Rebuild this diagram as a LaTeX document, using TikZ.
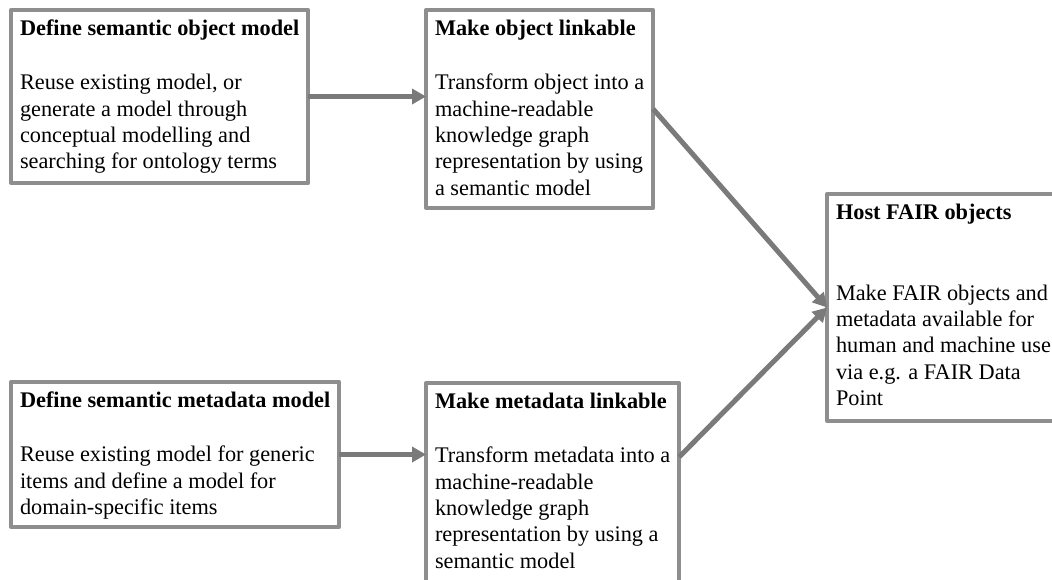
\documentclass[tikz,border=0pt]{standalone}
\usepackage{fontspec}
\setmainfont{Liberation Serif}
\usetikzlibrary{arrows.meta}

\definecolor{frame}{RGB}{142,142,142}
\definecolor{linkgray}{RGB}{122,122,122}

% Card body: width, height, bold title, then the text lines
\newcommand\cardbody[4]{%
  \vbox to #2{\hsize=#1\relax
    \hbox{\rule{0pt}{16pt}\bfseries #3}%
    #4\vss}}
\newcommand\cardline[1]{\hbox{#1}}

\tikzset{
  card/.style={draw=frame, line width=4pt, line join=round, fill=white,
    anchor=north west, inner xsep=9pt, inner ysep=9pt, outer sep=0pt,
    font=\fontsize{22.3}{26.4}\selectfont},
  flow/.style={draw=linkgray, line width=5pt,
    -{Triangle[length=14pt,width=15pt]}}
}

\begin{document}
\begin{tikzpicture}[x=1pt,y=-1pt]
  \useasboundingbox (0,0) rectangle (1052,579);
  \fill[white] (0,0) rectangle (1052,579);
  \clip (0,0) rectangle (1052,579);

  \node[card] (objmodel) at (11,10) {\cardbody{284pt}{155pt}{Define semantic object model}{%
    \vskip 28.3pt
    \cardline{Reuse existing model, or}
    \cardline{generate a model through}
    \cardline{conceptual modelling and}
    \cardline{searching for ontology terms}}};

  \node[card] (objlink) at (426,10) {\cardbody{215pt}{180pt}{Make object linkable}{%
    \vskip 28.3pt
    \cardline{Transform object into a}
    \cardline{machine-readable}
    \cardline{knowledge graph}
    \cardline{representation by using}
    \cardline{a semantic model}}};

  \node[card] (metamodel) at (11,382) {\cardbody{313pt}{127pt}{Define semantic metadata model}{%
    \vskip 28.3pt
    \cardline{Reuse existing model for generic}
    \cardline{items and define a model for}
    \cardline{domain-specific items}}};

  \node[card] (metalink) at (426,383) {\cardbody{243pt}{212pt}{Make metadata linkable}{%
    \vskip 28.3pt
    \cardline{Transform metadata into a}
    \cardline{machine-readable}
    \cardline{knowledge graph}
    \cardline{representation by using a}
    \cardline{semantic model}}};

  \node[card] (host) at (827,194) {\cardbody{242pt}{209pt}{Host FAIR objects}{%
    \vskip 54.6pt
    \cardline{Make FAIR objects and}
    \cardline{metadata available for}
    \cardline{human and machine use}
    \cardline{via e.g. a FAIR Data}
    \cardline{Point}}};

  \draw[flow] (objmodel.east) -- (objmodel.east -| objlink.west);
  \draw[flow] (metamodel.east) -- (metamodel.east -| metalink.west);
  \draw[flow] (objlink.east) -- (host.west);
  \draw[flow] (metalink.north east) ++(0,74) -- (host.west);
\end{tikzpicture}
\end{document}
